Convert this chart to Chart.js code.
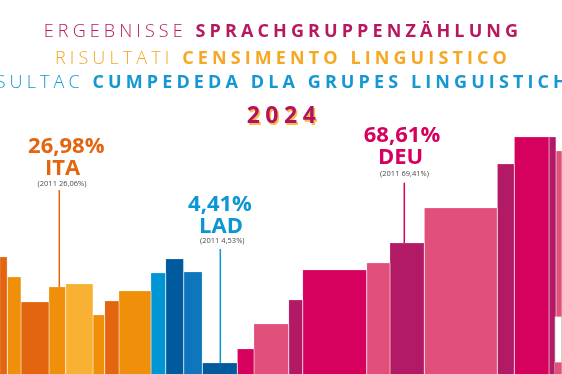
<!DOCTYPE html>
<html>
<head>
<meta charset="utf-8">
<script src="https://cdn.jsdelivr.net/npm/chart.js@4"></script>
<style>
  html, body { margin: 0; padding: 0; background: #fff; }
  #wrap { position: relative; width: 562px; height: 374px; overflow: hidden; font-family: "Open Sans", "Noto Sans", sans-serif; }
  #c { position: absolute; left: 0; top: 0; }
  .t { position: absolute; white-space: nowrap; line-height: 1; transform: translateX(-50%); }
  .title { font-size: 18px; letter-spacing: 4.1px; }
  .title .l { font-weight: 300; }
  .title .b { font-weight: 700; }
  .pct { font-size: 22px; font-weight: 700; }
  .grp { font-size: 22px; font-weight: 700; }
  .old { font-size: 7.5px; color: #4a4a4a; }
</style>
</head>
<body>
<div id="wrap">
  <canvas id="c" width="562" height="374"></canvas>
  <div class="t title" style="left:283px; top:21px; color:#B8185F;"><span class="l">ERGEBNISSE </span><span class="b">SPRACHGRUPPENZÄHLUNG</span></div>
  <div class="t title" style="left:283px; top:47.5px; color:#F6A724;"><span class="l">RISULTATI </span><span class="b">CENSIMENTO LINGUISTICO</span></div>
  <div class="t title" style="left:283px; top:72px; color:#1497D4;"><span class="l">RESULTAC </span><span class="b">CUMPEDEDA DLA GRUPES LINGUISTICHES</span></div>
  <div class="t" style="left:284px; top:102.5px; font-size:23px; font-weight:700; letter-spacing:5.5px; color:#B3125E; text-shadow:1.5px 1.5px 0 #F9BE4A;">2024</div>

  <div class="t pct" style="left:66.3px; top:132.8px; color:#E3650F;">26,98%</div>
  <div class="t grp" style="left:62.7px; top:155px; color:#E3650F;">ITA</div>
  <div class="t old" style="left:62px; top:180.3px;">(2011 26,06%)</div>

  <div class="t pct" style="left:220px; top:190.5px; color:#0B96D4;">4,41%</div>
  <div class="t grp" style="left:221px; top:212.8px; color:#0B96D4;">LAD</div>
  <div class="t old" style="left:222.3px; top:236.7px;">(2011 4,53%)</div>

  <div class="t pct" style="left:402px; top:121.6px; color:#D6005F;">68,61%</div>
  <div class="t grp" style="left:400.5px; top:143.8px; color:#D6005F;">DEU</div>
  <div class="t old" style="left:404.5px; top:170.3px;">(2011 69,41%)</div>
</div>
<script>
// ---- data ----
const barWidths  = [7.3, 13.7, 28, 16.7, 27.3, 11.7, 14.3, 32, 14.7, 18, 18.6, 35, 16.7, 34.7, 14, 64, 23.3, 34.3, 73, 17, 34.7, 7, 6];
const barHeights = [117, 97, 72, 87, 90, 59, 73, 83, 101, 115, 102, 11, 25, 50, 74, 104, 111, 131, 166, 210, 237, 237, 223];
const barGroups  = ['ita','ita','ita','ita','ita','ita','ita','ita','lad','lad','lad','lad','deu','deu','deu','deu','deu','deu','deu','deu','deu','deu','deu'];
const barShades  = [0, 1, 0, 1, 2, 1, 0, 1, 0, 1, 2, 1, 0, 1, 2, 0, 1, 2, 1, 2, 0, 2, 1];
const leaderX    = [59.3, 220.3, 404.3];
const leaderTop  = [184, 125, 191.3];
const leaderBar  = [3, 11, 17];
const leaderCol  = ['#E3650F', '#0B96D4', '#D6005F'];
const boxX = [555, 562];
const boxY = [11.7, 57.3];
const yMax = 374;

// ---- styles ----
const palette = {
  ita: ['#E3650F', '#F0900A', '#F8B133'],
  lad: ['#0095D5', '#005B9E', '#0E76BC'],
  deu: ['#D6005F', '#E0507A', '#B31A66']
};

const datasets = [];
let x0 = 0;
barWidths.forEach((w, i) => {
  const x1 = x0 + w;
  const h = barHeights[i];
  datasets.push({
    data: [{x: x0, y: 0}, {x: x0, y: h}, {x: x1, y: h}, {x: x1, y: 0}],
    backgroundColor: palette[barGroups[i]][barShades[i]],
    borderColor: 'rgba(255,255,255,0.2)',
    borderWidth: 1,
    fill: 'origin',
    pointRadius: 0,
    tension: 0,
    order: 0
  });
  x0 = x1;
});
const total = x0;

leaderX.forEach((lx, i) => {
  datasets.push({
    data: [{x: lx, y: leaderTop[i]}, {x: lx, y: barHeights[leaderBar[i]]}],
    borderColor: leaderCol[i],
    borderWidth: 1.5,
    fill: false,
    pointRadius: 0,
    order: -3
  });
});

// white label box at the right edge (cut off), then the pink strip below it
datasets.push({
  data: [{x: boxX[0], y: 0}, {x: boxX[0], y: boxY[1]}, {x: boxX[1], y: boxY[1]}, {x: boxX[1], y: 0}],
  backgroundColor: '#ffffff',
  borderColor: 'rgba(190,190,190,0.7)',
  borderWidth: 1,
  fill: 'origin',
  pointRadius: 0,
  order: -1
});
datasets.push({
  data: [{x: boxX[0] - 0.5, y: 0}, {x: boxX[0] - 0.5, y: boxY[0]}, {x: boxX[1], y: boxY[0]}, {x: boxX[1], y: 0}],
  backgroundColor: palette.deu[1],
  borderColor: 'rgba(255,255,255,0.2)',
  borderWidth: 1,
  fill: 'origin',
  pointRadius: 0,
  order: -2
});

new Chart(document.getElementById('c'), {
  type: 'line',
  data: { datasets },
  options: {
    responsive: false,
    animation: false,
    devicePixelRatio: 1,
    layout: { padding: 0 },
    plugins: { legend: { display: false }, tooltip: { enabled: false }, title: { display: false } },
    scales: {
      x: { type: 'linear', min: 0, max: total, display: false },
      y: { min: 0, max: yMax, display: false }
    }
  }
});
</script>
</body>
</html>
